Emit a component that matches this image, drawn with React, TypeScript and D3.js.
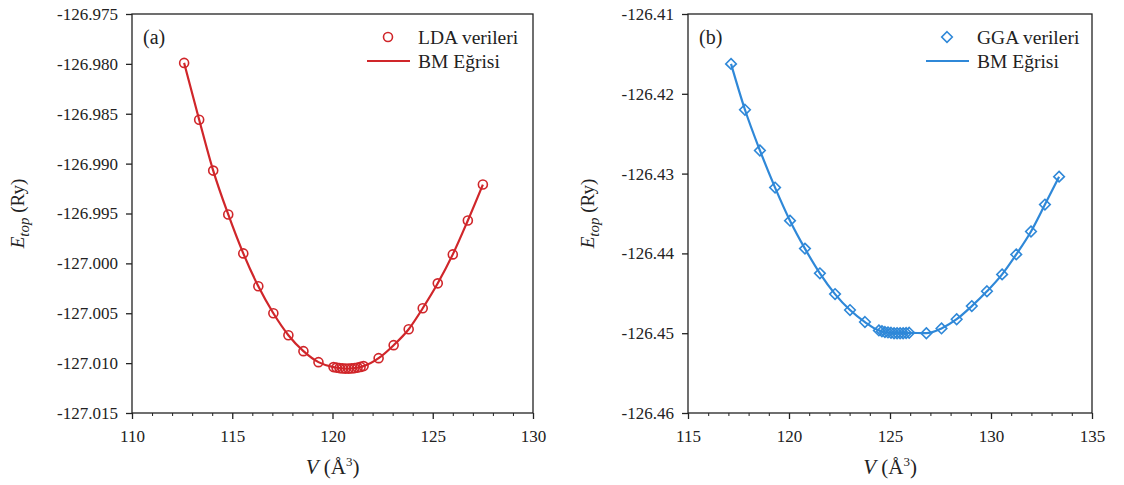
import React, { useEffect, useRef } from "react";
import * as d3 from "d3";

const ldaV = [112.6, 113.35, 114.05, 114.8, 115.55, 116.3, 117.05, 117.8, 118.55, 119.3,
  120.05, 120.2, 120.35, 120.5, 120.65, 120.8, 120.95, 121.1, 121.25, 121.4, 121.55,
  122.3, 123.05, 123.8, 124.5, 125.25, 126.0, 126.75, 127.5];
const ldaE = [-126.9799, -126.9856, -126.9907, -126.9951, -126.999, -127.0023, -127.005, -127.0072, -127.0088, -127.0099,
  -127.01040, -127.01045, -127.01050, -127.01053, -127.01055, -127.01055, -127.01053, -127.01050, -127.01045, -127.01038, -127.01030,
  -127.0095, -127.0082, -127.0066, -127.0045, -127.002, -126.9991, -126.9957, -126.9921];

const ggaV = [117.13, 117.82, 118.56, 119.31, 120.05, 120.79, 121.53, 122.28, 123.02, 123.76,
  124.45, 124.6, 124.75, 124.9, 125.05, 125.2, 125.35, 125.5, 125.65, 125.8, 125.95,
  126.8, 127.55, 128.3, 129.05, 129.8, 130.55, 131.25, 131.98, 132.67, 133.37];
const ggaE = [-126.41625, -126.4220, -126.4271, -126.43175, -126.4359, -126.4394, -126.4425, -126.4451, -126.4471, -126.4486,
  -126.44965, -126.44975, -126.44985, -126.4499, -126.44995, -126.45, -126.45, -126.45, -126.45, -126.44998, -126.44995,
  -126.4500, -126.4494, -126.44825, -126.4466, -126.44475, -126.44263, -126.44013, -126.43725, -126.43388, -126.43038];

const xTicksA = [110, 115, 120, 125, 130];
const yTicksA = [-126.975, -126.98, -126.985, -126.99, -126.995, -127.0, -127.005, -127.01, -127.015];
const xTicksB = [115, 120, 125, 130, 135];
const yTicksB = [-126.41, -126.42, -126.43, -126.44, -126.45, -126.46];

const RED = "#d0262a";
const BLUE = "#2f88d8";
const FONT = "'Liberation Serif', 'Times New Roman', serif";

type PanelCfg = {
  left: number; right: number; top: number; bottom: number;
  xDomain: [number, number]; yDomain: [number, number];
  xTicks: number[]; yTicks: number[]; yDigits: number;
  V: number[]; E: number[]; color: string; marker: "circle" | "diamond";
  tag: string; legendData: string; yLabelX: number;
};

function drawPanel(svg: d3.Selection<SVGSVGElement, unknown, null, undefined>, c: PanelCfg) {
  const x = d3.scaleLinear().domain(c.xDomain).range([c.left, c.right]);
  const y = d3.scaleLinear().domain(c.yDomain).range([c.bottom, c.top]);
  const g = svg.append("g");

  g.append("rect").attr("x", c.left).attr("y", c.top).attr("width", c.right - c.left)
    .attr("height", c.bottom - c.top).attr("fill", "none").attr("stroke", "#222").attr("stroke-width", 1.3);

  const xa = g.append("g").attr("transform", `translate(0,${c.bottom})`)
    .call(d3.axisBottom(x).tickValues(c.xTicks).tickSize(6).tickSizeOuter(0).tickFormat((d) => String(d)));
  xa.select(".domain").remove();
  xa.selectAll("line").attr("stroke", "#222").attr("stroke-width", 1.3);
  xa.selectAll("text").attr("font-family", FONT).attr("font-size", 17).attr("fill", "#222").attr("dy", "1.2em");
  const minor = d3.range(c.xDomain[0], c.xDomain[1] + 0.001, 1).filter((v) => !c.xTicks.includes(v));
  const xm = g.append("g").attr("transform", `translate(0,${c.bottom})`)
    .call(d3.axisBottom(x).tickValues(minor).tickSize(3).tickFormat(() => ""));
  xm.select(".domain").remove();
  xm.selectAll("line").attr("stroke", "#222").attr("stroke-width", 1);

  const ya = g.append("g").attr("transform", `translate(${c.left},0)`)
    .call(d3.axisLeft(y).tickValues(c.yTicks).tickSize(6).tickSizeOuter(0)
      .tickFormat((d) => (d as number).toFixed(c.yDigits)));
  ya.select(".domain").remove();
  ya.selectAll("line").attr("stroke", "#222").attr("stroke-width", 1.3);
  ya.selectAll("text").attr("font-family", FONT).attr("font-size", 17).attr("fill", "#222").attr("dx", "-0.3em");

  const pts = c.V.map((v, i) => [v, c.E[i]] as [number, number]).sort((a, b) => a[0] - b[0]);
  const line = d3.line<[number, number]>().x((d) => x(d[0])).y((d) => y(d[1])).curve(d3.curveMonotoneX);
  g.append("path").attr("d", line(pts)).attr("fill", "none").attr("stroke", c.color).attr("stroke-width", 2.2);

  const markerPath = c.marker === "circle"
    ? d3.symbol().type(d3.symbolCircle).size(Math.PI * 4.5 * 4.5)()
    : "M0,-5.3L5.3,0L0,5.3L-5.3,0Z";
  g.selectAll("path.m").data(pts).enter().append("path").attr("class", "m")
    .attr("d", markerPath)
    .attr("transform", (d) => `translate(${x(d[0])},${y(d[1])})`)
    .attr("fill", "none").attr("stroke", c.color).attr("stroke-width", 1.6);

  g.append("text").attr("x", c.left + 11).attr("y", c.top + 30).attr("font-family", FONT)
    .attr("font-size", 20).attr("fill", "#222").text(c.tag);

  const lx = c.right - 166;
  g.append("path").attr("d", markerPath).attr("transform", `translate(${lx + 21},${c.top + 23})`)
    .attr("fill", "none").attr("stroke", c.color).attr("stroke-width", 1.6);
  g.append("line").attr("x1", lx).attr("x2", lx + 43).attr("y1", c.top + 47).attr("y2", c.top + 47)
    .attr("stroke", c.color).attr("stroke-width", 2.2);
  g.append("text").attr("x", lx + 51).attr("y", c.top + 30).attr("font-family", FONT)
    .attr("font-size", 19.5).attr("fill", "#222").text(c.legendData);
  g.append("text").attr("x", lx + 51).attr("y", c.top + 54).attr("font-family", FONT)
    .attr("font-size", 19.5).attr("fill", "#222").text("BM Eğrisi");

  const xl = g.append("text").attr("x", (c.left + c.right) / 2).attr("y", c.bottom + 61)
    .attr("text-anchor", "middle").attr("font-family", FONT).attr("font-size", 21).attr("fill", "#222");
  xl.append("tspan").attr("font-style", "italic").text("V");
  xl.append("tspan").text(" (Å");
  xl.append("tspan").attr("font-size", 13).attr("dy", -8).text("3");
  xl.append("tspan").attr("dy", 8).text(")");

  const yl = g.append("text").attr("transform", `translate(${c.yLabelX},${(c.top + c.bottom) / 2}) rotate(-90)`)
    .attr("text-anchor", "middle").attr("font-family", FONT).attr("font-size", 19).attr("fill", "#222");
  yl.append("tspan").attr("font-style", "italic").text("E");
  yl.append("tspan").attr("font-style", "italic").attr("font-size", 15).attr("dy", 5).text("top");
  yl.append("tspan").attr("dy", -5).text(" (Ry)");
}

export default function App() {
  const ref = useRef<SVGSVGElement>(null);
  useEffect(() => {
    const svg = d3.select(ref.current!);
    svg.selectAll("*").remove();
    drawPanel(svg, {
      left: 132, right: 533, top: 14, bottom: 413,
      xDomain: [110, 130], yDomain: [-127.015, -126.975],
      xTicks: xTicksA, yTicks: yTicksA, yDigits: 3,
      V: ldaV, E: ldaE, color: RED, marker: "circle",
      tag: "(a)", legendData: "LDA verileri", yLabelX: 24,
    });
    drawPanel(svg, {
      left: 688, right: 1092, top: 14, bottom: 413,
      xDomain: [115, 135], yDomain: [-126.46, -126.41],
      xTicks: xTicksB, yTicks: yTicksB, yDigits: 2,
      V: ggaV, E: ggaE, color: BLUE, marker: "diamond",
      tag: "(b)", legendData: "GGA verileri", yLabelX: 594,
    });
  }, []);
  return (
    <svg ref={ref} width={1124} height={485}
      style={{ position: "absolute", left: 0, top: 0, background: "#fff" }} />
  );
}
